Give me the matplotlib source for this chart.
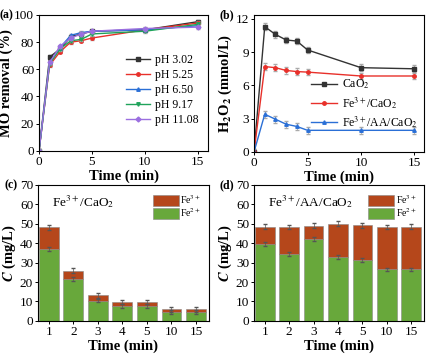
import matplotlib
matplotlib.use('Agg')
import matplotlib.pyplot as plt
import numpy as np

plt.rcParams['font.family'] = ['Liberation Serif', 'DejaVu Serif']
plt.rcParams['mathtext.fontset'] = 'stix'
plt.rcParams['axes.linewidth'] = 0.8

# (a) MO removal vs time at different pH
t_a = [0, 1, 2, 3, 4, 5, 10, 15]
ph_labels = ['pH 3.02', 'pH 5.25', 'pH 6.50', 'pH 9.17', 'pH 11.08']
mo_302 = [0, 69, 75, 84, 86, 88, 89, 95]
mo_525 = [0, 63, 73, 80, 81, 83, 89, 94]
mo_650 = [0, 65, 76, 85, 87, 88, 89, 92]
mo_917 = [0, 64, 75, 81, 82, 86, 88, 93]
mo_1108 = [0, 65, 77, 83, 86, 88, 90, 91]

# (b) H2O2 concentration
h2o2_labels = [r'CaO$_2$', r'Fe$^{3+}$/CaO$_2$', r'Fe$^{3+}$/AA/CaO$_2$']
h_cao2 = [0, 11.3, 10.6, 10.1, 10.0, 9.2, 7.6, 7.5]
h_fe = [0, 7.7, 7.6, 7.35, 7.25, 7.2, 6.85, 6.85]
h_feaa = [0, 3.4, 2.95, 2.5, 2.3, 1.95, 1.95, 1.95]

# (c), (d) iron species
t_bar = ['1', '2', '3', '4', '5', '10', '15']
c_fe2 = [37, 21.5, 10.5, 7.8, 7.8, 4.5, 4.5]
c_total = [48.2, 25.8, 13.2, 9.8, 9.8, 6.0, 6.0]
d_fe2 = [39.5, 34.5, 42, 33, 31.5, 26.5, 26.5]
d_total = [48.5, 48.3, 49, 50, 49.2, 48.3, 48.5]

C_FE3 = '#B5471B'
C_FE2 = '#68A83B'

fig = plt.figure(figsize=(4.35, 3.55), dpi=100)
ax_a = fig.add_axes([0.0897, 0.575, 0.389, 0.383])
ax_b = fig.add_axes([0.584, 0.572, 0.391, 0.386])
ax_c = fig.add_axes([0.0874, 0.096, 0.393, 0.383])
ax_d = fig.add_axes([0.584, 0.096, 0.391, 0.383])

tick_kw = dict(labelsize=9.5, length=2.5, width=0.7, direction='out', pad=1)
lab_kw = dict(fontsize=10.5, fontweight='bold', labelpad=1)


def lines_with_err(ax, series, labels, colors, markers, err):
    for ys, lab, col, mk in zip(series, labels, colors, markers):
        ax.errorbar(t_a, ys, yerr=err, fmt='none', ecolor='#aaaaaa',
                    elinewidth=0.6, capsize=1.2)
        ax.plot(t_a, ys, color=col, marker=mk, ms=2.5, lw=1.0, label=lab)


# ----- (a)
lines_with_err(ax_a, [mo_302, mo_525, mo_650, mo_917, mo_1108], ph_labels,
               ['#333333', '#E8302A', '#2A6FD6', '#1FA35A', '#9B6FE0'],
               ['s', 'o', '^', 'v', 'D'], 1.2)
ax_a.set_xlim(0, 16)
ax_a.set_ylim(0, 100)
ax_a.set_xticks([0, 5, 10, 15])
ax_a.set_yticks([0, 20, 40, 60, 80, 100])
ax_a.tick_params(**tick_kw)
ax_a.set_xlabel('Time (min)', **lab_kw)
ax_a.set_ylabel('MO removal (%)', **lab_kw)
ax_a.legend(loc='lower right', bbox_to_anchor=(0.99, 0.12), frameon=False,
            fontsize=8.5, handlelength=2.0, labelspacing=0.25, borderpad=0.2,
            handletextpad=0.4)

# ----- (b)
lines_with_err(ax_b, [h_cao2, h_fe, h_feaa], h2o2_labels,
               ['#333333', '#E8302A', '#2A6FD6'], ['s', 'o', '^'], 0.3)
ax_b.set_xlim(0, 15.9)
ax_b.set_ylim(0, 12.36)
ax_b.set_xticks([0, 5, 10, 15])
ax_b.set_yticks([0, 3, 6, 9, 12])
ax_b.tick_params(**tick_kw)
ax_b.set_xlabel('Time (min)', **lab_kw)
ax_b.set_ylabel(r'H$_\mathbf{2}$O$_\mathbf{2}$ (mmol/L)', **lab_kw)
ax_b.legend(loc='center right', bbox_to_anchor=(1.01, 0.35), frameon=False,
            fontsize=8.5, handlelength=2.2, labelspacing=0.3, borderpad=0.2,
            handletextpad=0.4)


# ----- (c), (d)
def stacked(ax, fe2, total, title):
    x = np.arange(len(t_bar))
    fe3 = [tt - f for tt, f in zip(total, fe2)]
    ax.bar(x, fe2, width=0.81, color=C_FE2, edgecolor='#888888', lw=0.4,
           label=r'Fe$^{2+}$')
    ax.bar(x, fe3, bottom=fe2, width=0.81, color=C_FE3, edgecolor='#888888',
           lw=0.4, label=r'Fe$^{3+}$')
    ax.errorbar(x, fe2, yerr=1.0, fmt='none', ecolor='#555555', elinewidth=0.5,
                capsize=1.2)
    ax.errorbar(x, total, yerr=1.2, fmt='none', ecolor='#555555', elinewidth=0.5,
                capsize=1.2)
    ax.set_xlim(-0.44, 6.53)
    ax.set_ylim(0, 70)
    ax.set_xticks(x)
    ax.set_xticklabels(t_bar)
    ax.set_yticks(range(0, 71, 10))
    ax.tick_params(**tick_kw)
    ax.set_xlabel('Time (min)', **lab_kw)
    ax.set_ylabel(r'$\boldsymbol{C}$ (mg/L)', **lab_kw)
    ax.text(0.08, 0.88, title, transform=ax.transAxes, fontsize=9.5,
            ha='left', va='center')
    h, l = ax.get_legend_handles_labels()
    ax.legend(h[::-1], l[::-1], loc='upper right', frameon=False, fontsize=7,
              handlelength=2.6, handleheight=1.4, labelspacing=0.0,
              borderpad=0.3, handletextpad=0.2)


stacked(ax_c, c_fe2, c_total, r'Fe$^{3+}$/CaO$_2$')
stacked(ax_d, d_fe2, d_total, r'Fe$^{3+}$/AA/CaO$_2$')

for ax, lab, dx in zip([ax_a, ax_b, ax_c, ax_d], ['(a)', '(b)', '(c)', '(d)'],
                       [-0.19, -0.16, -0.16, -0.16]):
    ax.text(dx, 1.0, lab, transform=ax.transAxes, fontsize=8.5,
            fontweight='bold', ha='center', va='center')

fig.savefig('out.png', dpi=100, facecolor='white')
